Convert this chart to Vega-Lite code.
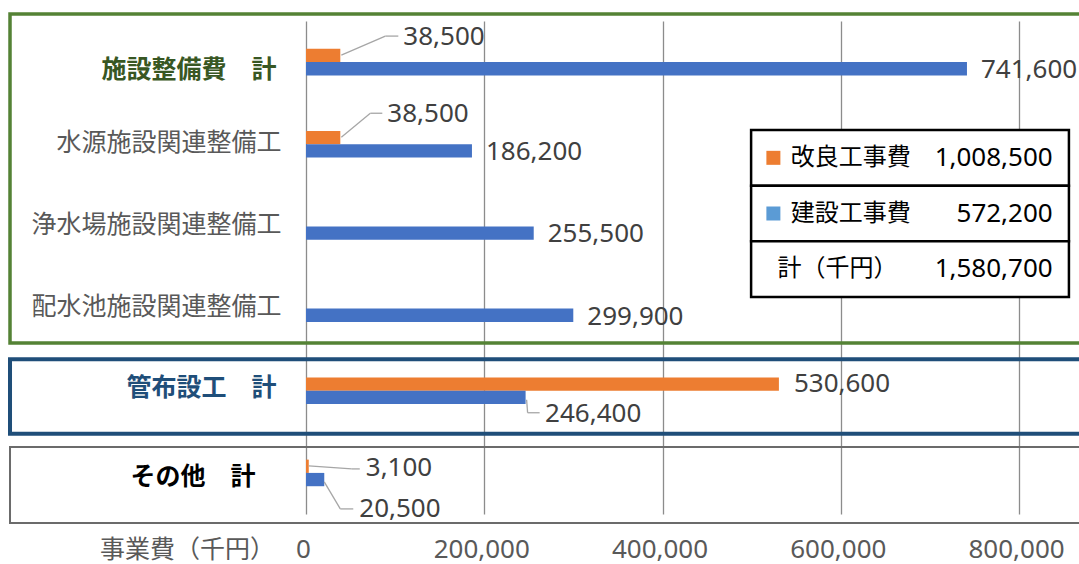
{
  "$schema": "https://vega.github.io/schema/vega-lite/v6.json",
  "width": 773,
  "height": 493,
  "autosize": {"type": "none"},
  "padding": {"left": 306, "top": 21, "right": 0, "bottom": 50},
  "background": "white",
  "config": {
    "font": "Noto Sans, Noto Sans CJK JP",
    "view": {"stroke": null}
  },
  "datasets": {
    "costs": [
      {"cat": "施設整備費　計", "series": "改良工事費", "value": 38500},
      {"cat": "施設整備費　計", "series": "建設工事費", "value": 741600},
      {"cat": "水源施設関連整備工", "series": "改良工事費", "value": 38500},
      {"cat": "水源施設関連整備工", "series": "建設工事費", "value": 186200},
      {"cat": "浄水場施設関連整備工", "series": "建設工事費", "value": 255500},
      {"cat": "配水池施設関連整備工", "series": "建設工事費", "value": 299900},
      {"cat": "管布設工　計", "series": "改良工事費", "value": 530600},
      {"cat": "管布設工　計", "series": "建設工事費", "value": 246400},
      {"cat": "その他　計", "series": "改良工事費", "value": 3100},
      {"cat": "その他　計", "series": "建設工事費", "value": 20500}
    ],
    "summary": [
      {"item": "改良工事費", "amount": 1008500},
      {"item": "建設工事費", "amount": 572200},
      {"item": "計（千円）", "amount": 1580700}
    ]
  },
  "resolve": {"scale": {"y": "independent", "color": "independent"}},
  "layer": [
    {
      "data": {"name": "costs"},
      "layer": [
        {
          "mark": {"type": "bar", "size": 13.3, "yOffset": -6.65},
          "transform": [{"filter": "datum.series === '改良工事費'"}],
          "encoding": {
            "y": {
              "field": "cat", "type": "nominal",
              "scale": {"type": "point", "padding": 0.5, "domain": ["施設整備費　計", "水源施設関連整備工", "浄水場施設関連整備工", "配水池施設関連整備工", "管布設工　計", "その他　計"]},
              "axis": {
                "title": null, "domain": false, "ticks": false, "grid": false,
                "labelFontSize": 25,
                "labelBaseline": "middle", "labelLimit": 400, "labelOverlap": false,
                "labelFont": "Noto Sans CJK JP",
                "labelPadding": {"condition": [
                  {"test": "datum.value === '施設整備費　計' || datum.value === '管布設工　計'", "value": 30},
                  {"test": "datum.value === 'その他　計'", "value": 51}
                ], "value": 25},
                "labelColor": {"condition": [
                  {"test": "datum.value === '施設整備費　計'", "value": "#385723"},
                  {"test": "datum.value === '管布設工　計'", "value": "#1F4E79"},
                  {"test": "datum.value === 'その他　計'", "value": "#000000"}
                ], "value": "#595959"},
                "labelFontWeight": {"condition": {"test": "datum.value === '施設整備費　計' || datum.value === '管布設工　計' || datum.value === 'その他　計'", "value": "bold"}, "value": "normal"},
                "labelOffset": {"condition": [
                  {"test": "datum.value === '施設整備費　計'", "value": 7},
                  {"test": "datum.value === '管布設工　計'", "value": -3},
                  {"test": "datum.value === 'その他　計'", "value": 4}
                ], "value": -2}
              }
            },
            "x": {
              "field": "value", "type": "quantitative",
              "scale": {"domain": [0, 867300], "nice": false},
              "axis": {
                "title": "事業費（千円）", "values": [0, 200000, 400000, 600000, 800000],
                "labelExpr": "format(datum.value, ',')",
                "grid": true, "gridColor": "#8C8C8C", "gridWidth": 1.3, "domain": false, "ticks": false,
                "labelFontSize": 26, "labelColor": "#595959", "labelPadding": 35, "labelBaseline": "middle",
                "labelOffset": -3,
                "labelFlush": false, "labelOverlap": false,
                "titleX": -119, "titleY": 35, "titleAlign": "center", "titleBaseline": "middle",
                "titleFontSize": 25, "titleFontWeight": "normal", "titleColor": "#595959", "titleFont": "Noto Sans CJK JP"
              }
            },
            "color": {"field": "series", "type": "nominal", "scale": {"domain": ["改良工事費", "建設工事費"], "range": ["#ED7D31", "#4472C4"]}, "legend": null}
          }
        },
        {
          "mark": {"type": "bar", "size": 13.3, "yOffset": 6.65},
          "transform": [{"filter": "datum.series === '建設工事費'"}],
          "encoding": {
            "y": {"field": "cat", "type": "nominal"},
            "x": {"field": "value", "type": "quantitative"},
            "color": {"field": "series", "type": "nominal", "legend": null}
          }
        },
        {
          "mark": {"type": "text", "align": "left", "baseline": "middle", "dx": 14, "dy": 8, "fontSize": 26, "color": "#404040"},
          "transform": [{"filter": "datum.series === '建設工事費' && datum.cat !== '管布設工　計' && datum.cat !== 'その他　計'"}],
          "encoding": {
            "y": {"field": "cat", "type": "nominal"},
            "x": {"field": "value", "type": "quantitative"},
            "text": {"field": "value", "type": "quantitative", "format": ","}
          }
        },
        {
          "mark": {"type": "text", "align": "left", "baseline": "middle", "dx": 15, "dy": -7, "fontSize": 26, "color": "#404040"},
          "transform": [{"filter": "datum.series === '改良工事費' && datum.cat === '管布設工　計'"}],
          "encoding": {
            "y": {"field": "cat", "type": "nominal"},
            "x": {"field": "value", "type": "quantitative"},
            "text": {"field": "value", "type": "quantitative", "format": ","}
          }
        },
        {
          "mark": {"type": "text", "align": "left", "baseline": "middle", "dx": 63, "dy": -25, "fontSize": 26, "color": "#404040"},
          "transform": [{"filter": "datum.series === '改良工事費' && datum.cat === '施設整備費　計'"}],
          "encoding": {
            "y": {"field": "cat", "type": "nominal"},
            "x": {"field": "value", "type": "quantitative"},
            "text": {"field": "value", "type": "quantitative", "format": ","}
          }
        },
        {
          "mark": {"type": "text", "align": "left", "baseline": "middle", "dx": 47, "dy": -30, "fontSize": 26, "color": "#404040"},
          "transform": [{"filter": "datum.series === '改良工事費' && datum.cat === '水源施設関連整備工'"}],
          "encoding": {
            "y": {"field": "cat", "type": "nominal"},
            "x": {"field": "value", "type": "quantitative"},
            "text": {"field": "value", "type": "quantitative", "format": ","}
          }
        },
        {
          "mark": {"type": "text", "align": "left", "baseline": "middle", "dx": 19.5, "dy": 23, "fontSize": 26, "color": "#404040"},
          "transform": [{"filter": "datum.series === '建設工事費' && datum.cat === '管布設工　計'"}],
          "encoding": {
            "y": {"field": "cat", "type": "nominal"},
            "x": {"field": "value", "type": "quantitative"},
            "text": {"field": "value", "type": "quantitative", "format": ","}
          }
        },
        {
          "mark": {"type": "text", "align": "left", "baseline": "middle", "dx": 57, "dy": -5, "fontSize": 26, "color": "#404040"},
          "transform": [{"filter": "datum.series === '改良工事費' && datum.cat === 'その他　計'"}],
          "encoding": {
            "y": {"field": "cat", "type": "nominal"},
            "x": {"field": "value", "type": "quantitative"},
            "text": {"field": "value", "type": "quantitative", "format": ","}
          }
        },
        {
          "mark": {"type": "text", "align": "left", "baseline": "middle", "dx": 35, "dy": 36, "fontSize": 26, "color": "#404040"},
          "transform": [{"filter": "datum.series === '建設工事費' && datum.cat === 'その他　計'"}],
          "encoding": {
            "y": {"field": "cat", "type": "nominal"},
            "x": {"field": "value", "type": "quantitative"},
            "text": {"field": "value", "type": "quantitative", "format": ","}
          }
        },
        {
          "mark": {"type": "rule", "color": "#A6A6A6", "strokeWidth": 1.3, "xOffset": 1, "x2Offset": 45, "yOffset": -7, "y2Offset": -26},
          "transform": [{"filter": "datum.series === '改良工事費' && datum.cat === '施設整備費　計'"}],
          "encoding": {"x": {"field": "value", "type": "quantitative"}, "x2": {"field": "value"}, "y": {"field": "cat", "type": "nominal"}, "y2": {"field": "cat"}}
        },
        {
          "mark": {"type": "rule", "color": "#A6A6A6", "strokeWidth": 1.3, "xOffset": 45, "x2Offset": 58, "yOffset": -26},
          "transform": [{"filter": "datum.series === '改良工事費' && datum.cat === '施設整備費　計'"}],
          "encoding": {"x": {"field": "value", "type": "quantitative"}, "x2": {"field": "value"}, "y": {"field": "cat", "type": "nominal"}}
        },
        {
          "mark": {"type": "rule", "color": "#A6A6A6", "strokeWidth": 1.3, "xOffset": 1, "x2Offset": 30, "yOffset": -7, "y2Offset": -31},
          "transform": [{"filter": "datum.series === '改良工事費' && datum.cat === '水源施設関連整備工'"}],
          "encoding": {"x": {"field": "value", "type": "quantitative"}, "x2": {"field": "value"}, "y": {"field": "cat", "type": "nominal"}, "y2": {"field": "cat"}}
        },
        {
          "mark": {"type": "rule", "color": "#A6A6A6", "strokeWidth": 1.3, "xOffset": 30, "x2Offset": 42, "yOffset": -31},
          "transform": [{"filter": "datum.series === '改良工事費' && datum.cat === '水源施設関連整備工'"}],
          "encoding": {"x": {"field": "value", "type": "quantitative"}, "x2": {"field": "value"}, "y": {"field": "cat", "type": "nominal"}}
        },
        {
          "mark": {"type": "rule", "color": "#A6A6A6", "strokeWidth": 1.3, "xOffset": 1, "x2Offset": 2, "yOffset": 9, "y2Offset": 22},
          "transform": [{"filter": "datum.series === '建設工事費' && datum.cat === '管布設工　計'"}],
          "encoding": {"x": {"field": "value", "type": "quantitative"}, "x2": {"field": "value"}, "y": {"field": "cat", "type": "nominal"}, "y2": {"field": "cat"}}
        },
        {
          "mark": {"type": "rule", "color": "#A6A6A6", "strokeWidth": 1.3, "xOffset": 2, "x2Offset": 14, "yOffset": 22},
          "transform": [{"filter": "datum.series === '建設工事費' && datum.cat === '管布設工　計'"}],
          "encoding": {"x": {"field": "value", "type": "quantitative"}, "x2": {"field": "value"}, "y": {"field": "cat", "type": "nominal"}}
        },
        {
          "mark": {"type": "rule", "color": "#A6A6A6", "strokeWidth": 1.3, "xOffset": 0, "x2Offset": 43, "yOffset": -7, "y2Offset": -4},
          "transform": [{"filter": "datum.series === '改良工事費' && datum.cat === 'その他　計'"}],
          "encoding": {"x": {"field": "value", "type": "quantitative"}, "x2": {"field": "value"}, "y": {"field": "cat", "type": "nominal"}, "y2": {"field": "cat"}}
        },
        {
          "mark": {"type": "rule", "color": "#A6A6A6", "strokeWidth": 1.3, "xOffset": 43, "x2Offset": 51, "yOffset": -4},
          "transform": [{"filter": "datum.series === '改良工事費' && datum.cat === 'その他　計'"}],
          "encoding": {"x": {"field": "value", "type": "quantitative"}, "x2": {"field": "value"}, "y": {"field": "cat", "type": "nominal"}}
        },
        {
          "mark": {"type": "rule", "color": "#A6A6A6", "strokeWidth": 1.3, "xOffset": 0, "x2Offset": 16, "yOffset": 9, "y2Offset": 36},
          "transform": [{"filter": "datum.series === '建設工事費' && datum.cat === 'その他　計'"}],
          "encoding": {"x": {"field": "value", "type": "quantitative"}, "x2": {"field": "value"}, "y": {"field": "cat", "type": "nominal"}, "y2": {"field": "cat"}}
        },
        {
          "mark": {"type": "rule", "color": "#A6A6A6", "strokeWidth": 1.3, "xOffset": 16, "x2Offset": 29, "yOffset": 36},
          "transform": [{"filter": "datum.series === '建設工事費' && datum.cat === 'その他　計'"}],
          "encoding": {"x": {"field": "value", "type": "quantitative"}, "x2": {"field": "value"}, "y": {"field": "cat", "type": "nominal"}}
        },
        {
          "data": {"values": [{"box": "施設整備費"}]},
          "mark": {"type": "rect", "filled": false, "stroke": "#548235", "strokeWidth": 3.5, "yOffset": -48, "y2Offset": 34.5},
          "encoding": {"x": {"datum": -332100, "type": "quantitative"}, "x2": {"datum": 900000}, "y": {"datum": "施設整備費　計", "type": "nominal"}, "y2": {"datum": "配水池施設関連整備工"}}
        },
        {
          "data": {"values": [{"box": "管布設工"}]},
          "mark": {"type": "rect", "filled": false, "stroke": "#1F4E79", "strokeWidth": 4, "yOffset": -31.5, "y2Offset": 43},
          "encoding": {"x": {"datum": -332100, "type": "quantitative"}, "x2": {"datum": 900000}, "y": {"datum": "管布設工　計", "type": "nominal"}, "y2": {"datum": "管布設工　計"}}
        },
        {
          "data": {"values": [{"box": "その他"}]},
          "mark": {"type": "rect", "filled": false, "stroke": "#6B6B6B", "strokeWidth": 2, "yOffset": -26, "y2Offset": 50},
          "encoding": {"x": {"datum": -332100, "type": "quantitative"}, "x2": {"datum": 900000}, "y": {"datum": "その他　計", "type": "nominal"}, "y2": {"datum": "その他　計"}}
        }
      ]
    },
    {
      "data": {"name": "summary"},
      "layer": [
        {
          "mark": {"type": "rect", "fill": "white", "stroke": "black", "strokeWidth": 2.5},
          "encoding": {
            "y": {"field": "item", "type": "nominal", "scale": {"type": "band", "domain": ["改良工事費", "建設工事費", "計（千円）"], "range": [109, 276], "paddingInner": 0, "paddingOuter": 0}, "axis": null},
            "x": {"datum": 499400, "type": "quantitative"},
            "x2": {"datum": 856000}
          }
        },
        {
          "mark": {"type": "square", "size": 196, "opacity": 1, "filled": true},
          "transform": [{"filter": "datum.item !== '計（千円）'"}],
          "encoding": {
            "y": {"field": "item", "type": "nominal"},
            "x": {"datum": 524400, "type": "quantitative"},
            "color": {"field": "item", "type": "nominal", "scale": {"domain": ["改良工事費", "建設工事費"], "range": ["#ED7D31", "#5B9BD5"]}, "legend": null}
          }
        },
        {
          "mark": {"type": "text", "align": "left", "baseline": "middle", "fontSize": 24, "color": "#000000", "font": "Noto Sans CJK JP"},
          "transform": [{"filter": "datum.item !== '計（千円）'"}],
          "encoding": {
            "y": {"field": "item", "type": "nominal"},
            "x": {"datum": 544000, "type": "quantitative"},
            "text": {"field": "item", "type": "nominal"}
          }
        },
        {
          "mark": {"type": "text", "align": "left", "baseline": "middle", "fontSize": 24, "color": "#000000", "font": "Noto Sans CJK JP"},
          "transform": [{"filter": "datum.item === '計（千円）'"}],
          "encoding": {
            "y": {"field": "item", "type": "nominal"},
            "x": {"datum": 529000, "type": "quantitative"},
            "text": {"field": "item", "type": "nominal"}
          }
        },
        {
          "mark": {"type": "text", "align": "right", "baseline": "middle", "fontSize": 26, "color": "#000000"},
          "encoding": {
            "y": {"field": "item", "type": "nominal"},
            "x": {"datum": 837800, "type": "quantitative"},
            "text": {"field": "amount", "type": "quantitative", "format": ","}
          }
        }
      ]
    }
  ]
}
